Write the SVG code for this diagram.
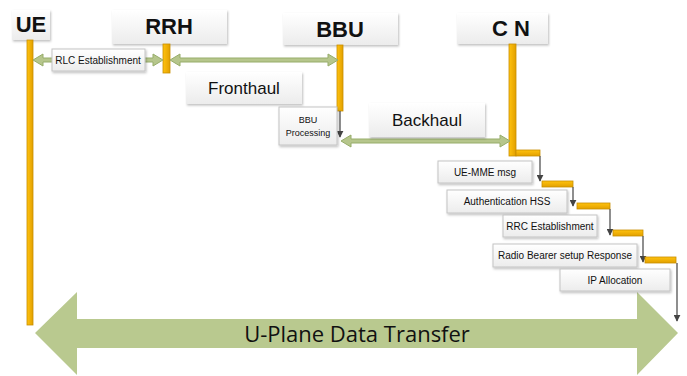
<svg xmlns="http://www.w3.org/2000/svg" width="687" height="376" viewBox="0 0 687 376">
<style>
text{font-family:"Liberation Sans",Arial,sans-serif;fill:#111;text-anchor:middle}
.hdr{font-weight:bold;font-size:22px}
.lbl{font-size:10px}
.mid{font-size:17px}
.hbox{fill:url(#gBox);filter:url(#sh)}
.lbox{fill:url(#gBox);stroke:#c4c4c4;stroke-width:1;filter:url(#sh)}
.bar{fill:url(#gBar);stroke:#c88e00;stroke-width:0.8}
.hbar{fill:url(#gHBar);stroke:#c88e00;stroke-width:0.8}
.garr{fill:#b6c68c;stroke:#97ad6a;stroke-width:1}
.thin{stroke:#444;stroke-width:1.2;fill:none;marker-end:url(#ah)}
</style>
<defs>
<linearGradient id="gBox" x1="0" y1="0" x2="0" y2="1"><stop offset="0" stop-color="#ffffff"/><stop offset="1" stop-color="#ececec"/></linearGradient>
<linearGradient id="gBar" x1="0" y1="0" x2="1" y2="0"><stop offset="0" stop-color="#ffc20e"/><stop offset="1" stop-color="#e2a000"/></linearGradient>
<linearGradient id="gHBar" x1="0" y1="0" x2="0" y2="1"><stop offset="0" stop-color="#ffc20e"/><stop offset="1" stop-color="#e2a000"/></linearGradient>
<filter id="sh" x="-10%" y="-20%" width="130%" height="150%"><feDropShadow dx="1" dy="1.5" stdDeviation="1" flood-color="#000" flood-opacity="0.25"/></filter>
<marker id="ah" viewBox="0 0 10 10" refX="9" refY="5" markerWidth="7" markerHeight="7" markerUnits="userSpaceOnUse" orient="auto"><path d="M0,0L10,5L0,10z" fill="#444"/></marker>
</defs>

<g id="big-arrow">
<polygon points="35,333 77,292 77,319 637,319 637,292 678,333 637,375 637,348 77,348 77,375" fill="#b9c98f"/>
<text x="357" y="342" style="font-size:22px;font-family:'Open Sans','Liberation Sans',sans-serif">U-Plane Data Transfer</text>
</g>

<g id="UE"><rect class="hbox" x="12" y="10" width="38" height="30"/><text class="hdr" x="31" y="32">UE</text><rect class="bar" x="27" y="40" width="6" height="285"/></g>
<g id="RRH"><rect class="hbox" x="112" y="10" width="115" height="34"/><text class="hdr" x="169" y="34">RRH</text><rect class="bar" x="163" y="44" width="7" height="29"/></g>
<g id="BBU"><rect class="hbox" x="283" y="13" width="115" height="32"/><text class="hdr" x="340" y="37">BBU</text><rect class="bar" x="337" y="45" width="6" height="66"/></g>
<g id="CN"><rect class="hbox" x="457" y="13" width="91" height="31"/><text class="hdr" x="511" y="36">C N</text><rect class="bar" x="509" y="44" width="7" height="112"/></g>

<g id="connectors">
<polygon class="garr" points="33,60 43,54 43,58 153,58 153,54 163,60 153,66 153,62 43,62 43,66"/>
<polygon class="garr" points="170,60 180,54 180,58 328,58 328,54 338,60 328,66 328,62 180,62 180,66"/>
<polygon class="garr" points="341,141 351,135 351,139 500,139 500,135 510,141 500,147 500,143 351,143 351,147"/>
<line class="thin" x1="340" y1="111" x2="340" y2="137"/>
<rect class="hbar" x="516" y="150" width="24" height="6"/>
<line class="thin" x1="540" y1="156" x2="540" y2="181"/>
<rect class="hbar" x="542" y="181" width="31" height="6"/>
<line class="thin" x1="573" y1="187" x2="573" y2="206"/>
<rect class="hbar" x="577" y="203" width="33" height="6"/>
<line class="thin" x1="610" y1="209" x2="610" y2="235"/>
<rect class="hbar" x="613" y="230" width="30" height="6"/>
<line class="thin" x1="643" y1="236" x2="643" y2="262"/>
<rect class="hbar" x="645" y="257" width="31" height="6"/>
<line class="thin" x1="677" y1="263" x2="677" y2="321"/>
</g>

<g id="rlc"><rect class="lbox" x="52" y="49" width="93" height="22"/><text class="lbl" x="98" y="64">RLC Establishment</text></g>
<g id="fronthaul"><rect class="hbox" x="186" y="72" width="116" height="32"/><text class="mid" x="244" y="94">Fronthaul</text></g>
<g id="bbu-proc"><rect class="lbox" x="279" y="107" width="58" height="38"/><text x="308" y="123" style="font-size:9px">BBU</text><text x="308" y="136" style="font-size:9px">Processing</text></g>
<g id="backhaul"><rect class="hbox" x="369" y="103" width="116" height="34"/><text class="mid" x="427" y="126">Backhaul</text></g>
<g id="ue-mme"><rect class="lbox" x="438" y="161" width="94" height="22"/><text class="lbl" x="485" y="176">UE-MME msg</text></g>
<g id="auth"><rect class="lbox" x="447" y="190" width="120" height="23"/><text class="lbl" x="507" y="205">Authentication HSS</text></g>
<g id="rrc"><rect class="lbox" x="503" y="215" width="94" height="22"/><text class="lbl" x="550" y="230">RRC Establishment</text></g>
<g id="rb"><rect class="lbox" x="493" y="244" width="144" height="23"/><text class="lbl" x="565" y="259">Radio Bearer setup Response</text></g>
<g id="ip"><rect class="lbox" x="560" y="269" width="110" height="22"/><text class="lbl" x="615" y="284">IP Allocation</text></g>
</svg>
